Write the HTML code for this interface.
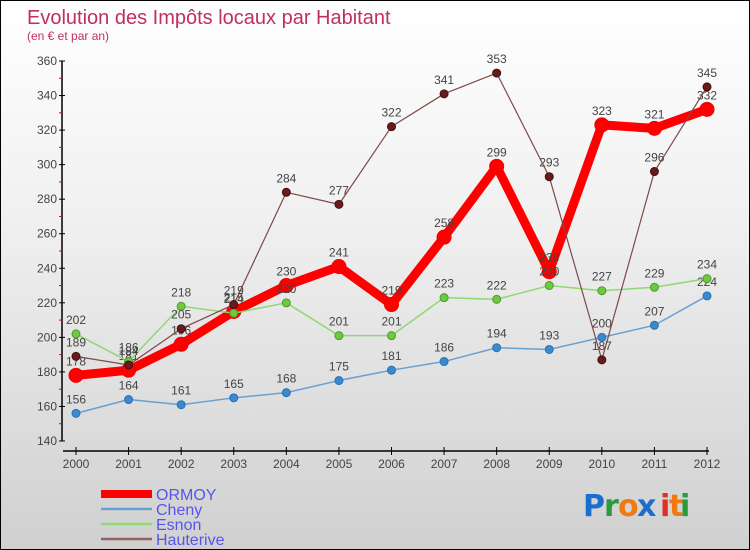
<!DOCTYPE html>
<html><head><meta charset="utf-8"><style>
body{margin:0;}
#c{width:750px;height:550px;position:relative;box-sizing:border-box;border:1px solid #000;background:linear-gradient(#fff 0%,#f0f0f0 40%,#d0d0d0 100%);overflow:hidden;font-family:"Liberation Sans",sans-serif;}
</style></head><body>
<div id="c">
<svg id="s" width="750" height="550" style="position:absolute;left:0;top:0">
<text x="26" y="23" font-size="20" fill="#c0305a">Evolution des Impôts locaux par Habitant</text>
<text x="26" y="39" font-size="12" fill="#c0305a">(en € et par an)</text>
<g id="axes"></g><g id="series"></g><g id="legend"></g>
<g font-size="30" font-family="'DejaVu Sans',sans-serif" font-weight="bold">
<text x="582" y="515" fill="#1a6fcc">P</text><text x="603" y="515" fill="#2a9a3a">r</text><text x="617" y="515" fill="#f07a10">o</text><text x="636" y="515" fill="#1a6fcc">x</text><text x="659" y="515" fill="#e03020">i</text><text x="668" y="515" fill="#f07a10">t</text><text x="679" y="515" fill="#2a9a3a">i</text>
</g>
</svg>
</div>
<script>
const years=["2000","2001","2002","2003","2004","2005","2006","2007","2008","2009","2010","2011","2012"];
const yTicks=[140,160,180,200,220,240,260,280,300,320,340,360];
const ormoy=[178,181,196,215,230,241,219,258,299,238,323,321,332];
const cheny=[156,164,161,165,168,175,181,186,194,193,200,207,224];
const esnon=[202,186,218,214,220,201,201,223,222,230,227,229,234];
const hauterive=[189,184,205,219,284,277,322,341,353,293,187,296,345];
const NS="http://www.w3.org/2000/svg";
function X(i){return 75+i*(706-75)/12;}
function Y(v){return 440-(v-140)*380/220;}
function mk(t,a,p){const e=document.createElementNS(NS,t);for(const k in a)e.setAttribute(k,a[k]);p.appendChild(e);return e;}
const ax=document.getElementById('axes');
let e=mk('line',{x1:61,y1:60,x2:61,y2:440,stroke:'#000','stroke-width':1.5},ax);


e=mk('line',{x1:62,y1:450,x2:708,y2:450,stroke:'#000','stroke-width':1.5},ax);


yTicks.forEach((v,i)=>{
 mk('line',{x1:58,y1:Y(v),x2:64,y2:Y(v),stroke:'#000'},ax);
 if(i<yTicks.length-1) mk('line',{x1:58,y1:Y(v+10),x2:61,y2:Y(v+10),stroke:'#e00'},ax);
 const t=mk('text',{x:56,y:Y(v)+4,'text-anchor':'end','font-size':12,fill:'#444'},ax);t.textContent=v;
 
 
});
years.forEach((y,i)=>{
 mk('line',{x1:X(i),y1:446,x2:X(i),y2:454,stroke:'#000'},ax);
 const t=mk('text',{x:X(i),y:467,'text-anchor':'middle','font-size':12,fill:'#444'},ax);t.textContent=y;
 
 
});
const sg=document.getElementById('series');
const defs=[
 {name:'ormoy',data:ormoy,c:'#f00',sc:'#e00',w:9,r:7},
 {name:'cheny',data:cheny,c:'#6aa0d0',sc:'#2a70b0',w:1.5,r:4,f:'#3a8ad0'},
 {name:'esnon',data:esnon,c:'#90d870',sc:'#4a9a30',w:1.5,r:4,f:'#70c840'},
 {name:'hauterive',data:hauterive,c:'#804848',sc:'#401010',w:1.2,r:4,f:'#6a1a1a'}
];
defs.forEach(d=>{
 const g=mk('g',{},sg);
 
 
 const p=mk('polyline',{points:d.data.map((v,i)=>X(i)+','+Y(v)).join(' '),fill:'none',stroke:d.c,'stroke-width':d.w,'stroke-linejoin':'round'},g);
 
 
 d.data.forEach((v,i)=>{
  const c=mk('circle',{cx:X(i),cy:Y(v),r:d.r,fill:d.f||d.c,stroke:d.sc,'stroke-width':1},g);
  
  
  const t=mk('text',{x:X(i),y:Y(v)-10,'text-anchor':'middle','font-size':12,fill:'#444'},g);t.textContent=v;
  
  
 });
});
const lg=document.getElementById('legend');
const leg=[['ORMOY','#f00',8],['Cheny','#6aa0d0',2.5],['Esnon','#90d870',2.5],['Hauterive','#906060',2.5]];
leg.forEach((l,i)=>{
 const y=493+i*15;
 const g=mk('g',{},lg);
 
 
 mk('line',{x1:100,y1:y,x2:151,y2:y,stroke:l[1],'stroke-width':l[2]},g);
 const t=mk('text',{x:155,y:y+6,'font-size':16,fill:'#5555ee'},g);t.textContent=l[0];
});
</script>
</body></html>
